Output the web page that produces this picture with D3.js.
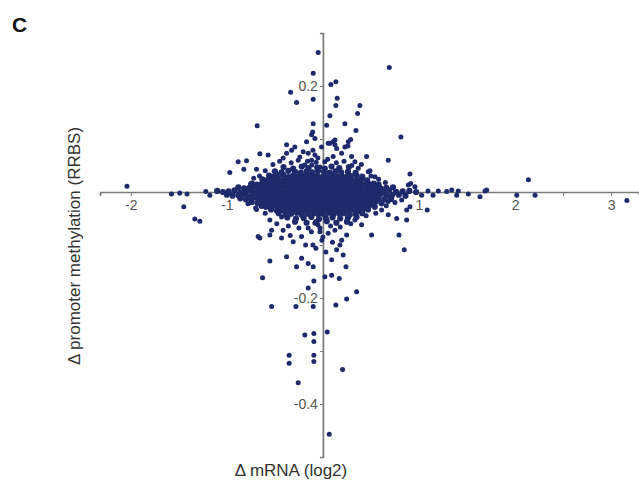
<!DOCTYPE html>
<html><head><meta charset="utf-8">
<script src="https://cdn.jsdelivr.net/npm/d3@7"></script>
<style>body{margin:0;background:#fff}svg{display:block}text{font-family:"Liberation Sans",Arial,sans-serif}</style>
</head><body><svg id="c" width="639" height="483"></svg>
<script>
// x = delta mRNA (log2), y = delta promoter methylation (RRBS)
const xTickValues = [-2, -1.5, -1, -0.5, 0.5, 1, 1.5, 2, 2.5, 3];
const xTickLabels = {"-2": "-2", "-1": "-1", "1": "1", "2": "2", "3": "3"};
const yTickValues = [-0.4, -0.3, -0.2, -0.1, 0.1, 0.2];
const yTickLabels = {"0.2": "0.2", "-0.2": "-0.2", "-0.4": "-0.4"};

const outliers = [
 [-0.049,0.263],[-0.101,0.224],[0.083,0.203],[0.135,0.208],[-0.336,0.188],[-0.274,0.169],[-0.101,0.175],
 [0.149,0.177],[0.135,0.163],[0.385,0.163],[0.361,0.148],[0.073,0.144],[0.691,0.235],[-0.684,0.125],
 [-0.101,0.129],[0.039,0.126],[0.229,0.129],[0.344,0.116],[-0.107,0.113],[0.289,0.099],[0.812,0.104],
 [0.125,0.098],[0.073,0.092],[0.229,0.085],[0.26,0.087],[0.68,0.060],[0.455,0.067],[0.906,0.034],
 [0.49,0.040],[2.139,0.023],[0.914,0.016],[3.164,-0.016],[1.393,-0.006],[1.688,0.002],[1.635,-0.009],
 [2.208,-0.006],[2.018,-0.006],[1.086,-0.034],[0.872,-0.034],[0.872,-0.053],[0.768,-0.050],[0.507,-0.081],
 [0.792,-0.081],[1.201,0.002],[1.289,0.001],[1.341,0.004],[1.409,0.002],[1.705,0.004],[1.514,-0.004],
 [1.094,0.002],[1.146,-0.006],
 [-2.039,0.011],[-1.576,-0.004],[-1.49,-0.002],[-1.414,-0.004],[-1.448,-0.028],[-1.333,-0.051],[-1.281,-0.055],
 [-1.219,0.001],[-1.177,-0.006],[-0.969,0.037],[-0.882,0.057],[-0.795,0.059],[-0.823,0.043],[-0.691,0.043],
 [-0.753,0.015],[-0.691,-0.033]
];
const lowerOutliers = [
 [-0.656,-0.087],[-0.552,-0.130],[-0.628,-0.162],[-0.378,-0.122],[-0.274,-0.141],[-0.222,-0.125],[-0.153,-0.135],
 [-0.101,-0.141],[-0.094,-0.168],[-0.153,-0.181],[0.091,-0.157],[0.021,-0.160],[0.170,-0.163],[0.240,-0.141],
 [0.351,-0.188],[0.247,-0.202],[0.135,-0.213],[-0.534,-0.216],[-0.281,-0.216],[-0.101,-0.216],[-0.188,-0.270],
 [-0.094,-0.267],[0.045,-0.264],[0.177,-0.100],[0.211,-0.119],[0.143,-0.109],[-0.351,-0.308],[-0.351,-0.323],
 [-0.094,-0.308],[-0.094,-0.320],[-0.257,-0.360],[0.205,-0.335],[0.066,-0.457],[0.847,-0.109],[-0.094,-0.282],
 [0.091,-0.128],[-0.552,-0.053]
];
const haloUpper = [
 [-0.656,0.072],[-0.57,0.070],[-0.482,0.035],[-0.414,0.064],[-0.378,0.073],[-0.326,0.079],[-0.378,0.089],
 [-0.292,0.085],[-0.205,0.076],[-0.153,0.073],[-0.257,0.060],[-0.188,0.051],[-0.118,0.060],[-0.104,0.079],
 [-0.083,0.070],[0.055,0.092],[0.125,0.089],[0.264,0.095],[0.107,0.067],[0.195,0.073],[0.299,0.067],
 [0.333,0.057],[0.472,0.038],[0.542,0.029],[0.368,0.045],[0.264,0.038],[0.889,0.013],[0.958,0.010],
 [0.768,0.001],[-0.17,0.095],[0.107,0.095],[0.143,0.082],[-0.118,0.108],[-0.083,0.101],[-0.014,0.085],
 [-0.052,0.064],[0.021,0.057],[-0.031,0.047],[-0.115,0.051],
 [-0.52,0.052],[-0.45,0.058],[-0.33,0.055],[-0.24,0.066],[-0.16,0.058],[-0.07,0.056],[0.05,0.062],[0.14,0.055],
 [0.22,0.058],[0.30,0.050],[0.40,0.052],[-0.60,0.040],[-0.66,0.030],[-0.72,0.026],[0.50,0.030],[0.58,0.024],[0.65,0.018]
];
const haloLower = [
 [-0.43,-0.047],[-0.534,-0.072],[-0.414,-0.072],[-0.674,-0.084],[-0.552,-0.081],[-0.43,-0.087],[-0.309,-0.094],
 [-0.222,-0.084],[-0.153,-0.068],[-0.083,-0.059],[0.055,-0.078],[0.125,-0.072],[0.195,-0.091],[0.247,-0.081],
 [0.333,-0.053],[0.403,-0.062],[0.611,-0.034],[0.68,-0.043],[0.906,-0.028],[0.68,-0.018],[0.82,-0.015],
 [1.028,-0.006],[-0.052,-0.062],[-0.01,-0.091],[-0.073,-0.106],[0.031,-0.113],[-0.031,-0.075],[-0.104,-0.100],
 [-0.48,-0.060],[-0.36,-0.064],[-0.25,-0.068],[-0.12,-0.075],[-0.03,-0.068],[0.08,-0.064],[0.18,-0.066],
 [0.29,-0.060],[0.45,-0.045],[0.55,-0.040],[-0.60,-0.040],[-0.70,-0.030],[-0.78,-0.022],[0.66,-0.026],
 [0.75,-0.020],[-0.34,-0.082],[0.00,-0.085],[0.10,-0.095],[-0.18,-0.100]
];
const coreUpper = [
 [-0.41,0.047],[-0.31,0.044],[-0.22,0.048],[-0.15,0.045],[-0.06,0.046],[0.02,0.044],[0.09,0.048],[0.17,0.045],[0.27,0.047],
 [-0.50,0.039],[-0.43,0.037],[-0.36,0.040],[-0.29,0.038],[-0.23,0.036],[-0.17,0.039],[-0.11,0.037],[-0.05,0.040],[0.01,0.038],[0.07,0.036],[0.13,0.039],[0.19,0.037],[0.26,0.038],[0.34,0.036],
 [-0.56,0.031],[-0.51,0.029],[-0.46,0.030],[-0.41,0.032],[-0.36,0.028],[-0.31,0.031],[-0.26,0.029],[-0.21,0.030],[-0.16,0.032],[-0.11,0.029],[-0.06,0.031],[-0.01,0.028],[0.04,0.030],[0.09,0.032],[0.14,0.029],[0.19,0.031],[0.24,0.028],[0.29,0.030],[0.35,0.031],[0.41,0.029],
 [-0.63,0.024],[-0.585,0.022],[-0.54,0.023],[-0.49,0.025],[-0.445,0.021],[-0.40,0.023],[-0.35,0.024],[-0.305,0.022],[-0.26,0.023],[-0.21,0.025],[-0.165,0.022],[-0.12,0.023],[-0.07,0.024],[-0.025,0.021],[0.02,0.023],[0.07,0.025],[0.115,0.022],[0.16,0.023],[0.21,0.024],[0.255,0.022],[0.30,0.023],[0.35,0.021],[0.40,0.024],[0.46,0.022],
 [-0.74,0.016],[-0.69,0.014],[-0.64,0.015],[-0.595,0.017],[-0.55,0.013],[-0.50,0.015],[-0.455,0.016],[-0.41,0.014],[-0.36,0.015],[-0.315,0.017],[-0.27,0.014],[-0.22,0.015],[-0.175,0.016],[-0.13,0.013],[-0.08,0.015],[-0.035,0.017],[0.01,0.014],[0.06,0.015],[0.105,0.016],[0.15,0.014],[0.20,0.015],[0.245,0.017],[0.29,0.013],[0.34,0.015],[0.385,0.016],[0.43,0.014],[0.48,0.015],[0.53,0.016],[0.58,0.014],
 [-0.88,0.009],[-0.82,0.007],[-0.765,0.008],[-0.715,0.010],[-0.665,0.006],[-0.62,0.008],[-0.575,0.009],[-0.525,0.007],[-0.48,0.008],[-0.43,0.010],[-0.385,0.007],[-0.34,0.008],[-0.29,0.009],[-0.245,0.006],[-0.20,0.008],[-0.15,0.010],[-0.105,0.007],[-0.06,0.008],[-0.01,0.009],[0.035,0.007],[0.08,0.008],[0.13,0.010],[0.175,0.006],[0.22,0.008],[0.27,0.009],[0.315,0.007],[0.36,0.008],[0.41,0.010],[0.455,0.007],[0.50,0.008],[0.55,0.009],[0.60,0.007],[0.66,0.008],[0.73,0.009]
];
const coreMiddle = [
 [-1.10,0.002],[-1.04,0.000],[-0.98,0.001],[-0.92,0.003],[-0.86,-0.001],[-0.80,0.001],[-0.745,0.002],[-0.69,0.000],[-0.64,0.001],[-0.595,0.003],[-0.55,0.000],[-0.50,0.001],[-0.455,0.002],[-0.41,-0.001],[-0.36,0.001],[-0.315,0.003],[-0.27,0.000],[-0.22,0.001],[-0.175,0.002],[-0.13,0.000],[-0.08,0.001],[-0.035,0.003],[0.01,-0.001],[0.06,0.001],[0.105,0.002],[0.15,0.000],[0.20,0.001],[0.245,0.003],[0.29,0.000],[0.34,0.001],[0.385,0.002],[0.43,-0.001],[0.48,0.001],[0.53,0.002],[0.58,0.000],[0.63,0.001],[0.69,0.003],[0.76,0.000],[0.83,0.001],[0.90,0.002],[0.97,0.000],
 [-1.00,-0.005],[-0.94,-0.007],[-0.88,-0.006],[-0.82,-0.004],[-0.765,-0.008],[-0.715,-0.006],[-0.665,-0.005],[-0.62,-0.007],[-0.575,-0.006],[-0.525,-0.004],[-0.48,-0.007],[-0.43,-0.006],[-0.385,-0.005],[-0.34,-0.008],[-0.29,-0.006],[-0.245,-0.004],[-0.20,-0.007],[-0.15,-0.006],[-0.105,-0.005],[-0.06,-0.008],[-0.01,-0.006],[0.035,-0.004],[0.08,-0.007],[0.13,-0.006],[0.175,-0.005],[0.22,-0.008],[0.27,-0.006],[0.315,-0.004],[0.36,-0.007],[0.41,-0.006],[0.455,-0.005],[0.50,-0.008],[0.55,-0.006],[0.60,-0.004],[0.66,-0.007],[0.72,-0.006],[0.79,-0.005],[0.86,-0.007]
];
const coreLower = [
 [-0.86,-0.012],[-0.80,-0.014],[-0.745,-0.013],[-0.69,-0.011],[-0.64,-0.015],[-0.595,-0.013],[-0.55,-0.012],[-0.50,-0.014],[-0.455,-0.013],[-0.41,-0.011],[-0.36,-0.014],[-0.315,-0.013],[-0.27,-0.012],[-0.22,-0.015],[-0.175,-0.013],[-0.13,-0.011],[-0.08,-0.014],[-0.035,-0.013],[0.01,-0.012],[0.06,-0.015],[0.105,-0.013],[0.15,-0.011],[0.20,-0.014],[0.245,-0.013],[0.29,-0.012],[0.34,-0.015],[0.385,-0.013],[0.43,-0.011],[0.48,-0.014],[0.53,-0.013],[0.58,-0.012],[0.64,-0.014],[0.71,-0.013],
 [-0.74,-0.019],[-0.68,-0.021],[-0.62,-0.020],[-0.575,-0.018],[-0.525,-0.022],[-0.48,-0.020],[-0.43,-0.019],[-0.385,-0.021],[-0.34,-0.020],[-0.29,-0.018],[-0.245,-0.021],[-0.20,-0.020],[-0.15,-0.019],[-0.105,-0.022],[-0.06,-0.020],[-0.01,-0.018],[0.035,-0.021],[0.08,-0.020],[0.13,-0.019],[0.175,-0.022],[0.22,-0.020],[0.27,-0.018],[0.315,-0.021],[0.36,-0.020],[0.41,-0.019],[0.455,-0.022],[0.50,-0.020],[0.55,-0.018],[0.61,-0.021],
 [-0.64,-0.026],[-0.595,-0.028],[-0.55,-0.027],[-0.50,-0.025],[-0.455,-0.029],[-0.41,-0.027],[-0.36,-0.026],[-0.315,-0.028],[-0.27,-0.027],[-0.22,-0.025],[-0.175,-0.028],[-0.13,-0.027],[-0.08,-0.026],[-0.035,-0.029],[0.01,-0.027],[0.06,-0.025],[0.105,-0.028],[0.15,-0.027],[0.20,-0.026],[0.245,-0.029],[0.29,-0.027],[0.34,-0.025],[0.385,-0.028],[0.43,-0.027],[0.48,-0.026],[0.54,-0.028],
 [-0.54,-0.033],[-0.48,-0.035],[-0.43,-0.034],[-0.385,-0.032],[-0.34,-0.036],[-0.29,-0.034],[-0.245,-0.033],[-0.20,-0.035],[-0.15,-0.034],[-0.105,-0.032],[-0.06,-0.035],[-0.01,-0.034],[0.035,-0.033],[0.08,-0.036],[0.13,-0.034],[0.175,-0.032],[0.22,-0.035],[0.27,-0.034],[0.315,-0.033],[0.36,-0.036],[0.41,-0.034],[0.47,-0.033],
 [-0.46,-0.040],[-0.39,-0.042],[-0.33,-0.041],[-0.27,-0.039],[-0.22,-0.043],[-0.16,-0.041],[-0.10,-0.040],[-0.05,-0.042],[0.00,-0.041],[0.06,-0.039],[0.11,-0.042],[0.17,-0.041],[0.22,-0.040],[0.28,-0.043],[0.34,-0.041],[0.41,-0.040],
 [-0.37,-0.048],[-0.28,-0.050],[-0.20,-0.049],[-0.12,-0.047],[-0.04,-0.051],[0.03,-0.049],[0.10,-0.048],[0.18,-0.050],[0.26,-0.049],[0.35,-0.047],
 [-0.29,-0.056],[-0.17,-0.058],[-0.07,-0.057],[0.04,-0.055],[0.14,-0.058],[0.25,-0.056]
];
const coreCentre = [
 [-0.47,0.019],[-0.38,0.018],[-0.29,0.020],[-0.20,0.019],[-0.10,0.018],[-0.01,0.020],[0.08,0.019],[0.18,0.018],[0.27,0.020],[0.37,0.019],
 [-0.52,0.011],[-0.42,0.012],[-0.33,0.011],[-0.24,0.012],[-0.14,0.011],[-0.05,0.012],[0.04,0.011],[0.14,0.012],[0.23,0.011],[0.32,0.012],[0.42,0.011],
 [-0.57,0.004],[-0.47,0.005],[-0.38,0.004],[-0.29,0.005],[-0.19,0.004],[-0.10,0.005],[0.00,0.004],[0.09,0.005],[0.18,0.004],[0.28,0.005],[0.37,0.004],[0.47,0.005],
 [-0.53,-0.003],[-0.43,-0.002],[-0.34,-0.003],[-0.24,-0.002],[-0.15,-0.003],[-0.05,-0.002],[0.04,-0.003],[0.13,-0.002],[0.23,-0.003],[0.32,-0.002],[0.42,-0.003],
 [-0.57,-0.010],[-0.47,-0.009],[-0.38,-0.010],[-0.29,-0.009],[-0.19,-0.010],[-0.10,-0.009],[0.00,-0.010],[0.09,-0.009],[0.18,-0.010],[0.28,-0.009],[0.37,-0.010],[0.47,-0.009],
 [-0.52,-0.017],[-0.42,-0.016],[-0.33,-0.017],[-0.24,-0.016],[-0.14,-0.017],[-0.05,-0.016],[0.04,-0.017],[0.14,-0.016],[0.23,-0.017],[0.32,-0.016],[0.42,-0.017],
 [-0.47,-0.024],[-0.38,-0.023],[-0.29,-0.024],[-0.20,-0.023],[-0.10,-0.024],[-0.01,-0.023],[0.08,-0.024],[0.18,-0.023],[0.27,-0.024],[0.37,-0.023],
 [-0.40,-0.031],[-0.31,-0.030],[-0.22,-0.031],[-0.13,-0.030],[-0.03,-0.031],[0.06,-0.030],[0.15,-0.031],[0.25,-0.030],[0.34,-0.031]
];
const scattered = [].concat(outliers, lowerOutliers, haloUpper, haloLower);
const dense = [].concat(coreUpper, coreMiddle, coreLower, coreCentre);

const svg = d3.select("#c");
const x = d3.scaleLinear().domain([-2.32, 3.29]).range([100, 639]);
const y = d3.scaleLinear().domain([-0.5, 0.3]).range([457, 33]);
const axisColor = "#7a7a7a";
const dotColor = "#1f2a6c";

const gx = svg.append("g").attr("transform", `translate(0,${y(0)})`)
  .call(d3.axisBottom(x).tickValues(xTickValues).tickSize(4).tickPadding(4)
    .tickFormat(d => xTickLabels[String(d)] || ""));
const gy = svg.append("g").attr("transform", `translate(${x(0)},0)`)
  .call(d3.axisLeft(y).tickValues(yTickValues).tickSize(3).tickPadding(2)
    .tickFormat(d => yTickLabels[String(d)] || ""));
[gx, gy].forEach(g => {
  g.select(".domain").attr("stroke", axisColor).attr("stroke-width", 1.7);
  g.selectAll(".tick line").attr("stroke", axisColor).attr("stroke-width", 1);
  g.selectAll(".tick text").attr("fill", "#555").attr("font-size", 14)
    .attr("font-family", "'Liberation Sans', Arial, sans-serif");
});

svg.append("g").selectAll("circle").data(scattered).join("circle")
  .attr("cx", d => x(d[0])).attr("cy", d => y(d[1])).attr("r", 2.5)
  .attr("fill", dotColor);
svg.append("g").selectAll("circle").data(dense).join("circle")
  .attr("cx", d => x(d[0])).attr("cy", d => y(d[1])).attr("r", 3.1)
  .attr("fill", dotColor);

svg.append("text").attr("x", 12).attr("y", 32).attr("font-size", 21)
  .attr("font-weight", "bold").attr("fill", "#111").text("C");
svg.append("text").attr("transform", "translate(80,246) rotate(-90)")
  .attr("text-anchor", "middle").attr("font-size", 17).attr("fill", "#333")
  .text("Δ promoter methylation (RRBS)");
svg.append("text").attr("x", 291).attr("y", 476).attr("text-anchor", "middle")
  .attr("font-size", 17).attr("fill", "#333").text("Δ mRNA (log2)");
</script></body></html>
